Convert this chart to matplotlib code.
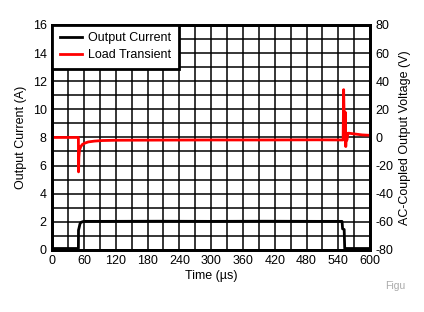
import matplotlib
matplotlib.use("Agg")
import matplotlib.pyplot as plt
from matplotlib.ticker import MultipleLocator

plt.rcParams['font.family'] = ['Liberation Sans', 'DejaVu Sans']
plt.rcParams['axes.unicode_minus'] = False

# output current trace (us, A)
t_cur = [0, 20, 49.5, 49.7, 51, 52.5, 54, 57, 60, 100, 200, 300, 400, 500, 547, 548, 551, 552, 575, 600]
i_cur = [0.1, 0.1, 0.1, 1.4, 1.6, 1.85, 1.95, 2.0, 2.03, 2.03, 2.04, 2.03, 2.04, 2.03, 2.03, 1.5, 1.45, 0.1, 0.1, 0.1]

# ac-coupled output voltage trace (us, V)
t_v = [0, 20, 49.5, 49.8, 50.4, 51.6, 54, 57, 62, 68, 80, 95, 120, 200, 300, 400, 500, 549,
       550, 551, 552, 553, 554, 555, 556, 558, 560, 570, 585, 600]
v_out = [0, 0, 0, -24.5, -14, -9, -6.5, -5, -4, -3.2, -2.6, -2.2, -2.0, -1.9, -1.8, -1.8, -1.7, -1.8,
         34, 12, 4, 18, -6.5, 3, -2, 3, 3, 2.5, 1.8, 1.5]

fig = plt.figure(figsize=(4.24, 3.12), dpi=100)
ax = fig.add_axes([0.123, 0.199, 0.750, 0.721])
ax2 = ax.twinx()

ax.plot(t_cur, i_cur, color='black', lw=2, label='Output Current')
ax2.plot(t_v, v_out, color='red', lw=2, label='Load Transient')

ax.set_xlim(0, 600)
ax.set_ylim(0, 16)
ax2.set_ylim(-80, 80)
ax.xaxis.set_major_locator(MultipleLocator(60))
ax.xaxis.set_minor_locator(MultipleLocator(30))
ax.yaxis.set_major_locator(MultipleLocator(2))
ax.yaxis.set_minor_locator(MultipleLocator(1))
ax2.yaxis.set_major_locator(MultipleLocator(20))
ax.grid(True, which='both', color='black', lw=1.1)
ax.set_axisbelow(True)

for a in (ax, ax2):
    a.tick_params(which='both', length=0, labelsize=9, pad=4)
    for s in a.spines.values():
        s.set_linewidth(2)

ax.set_xlabel('Time (\u00b5s)', fontsize=9, labelpad=2)
ax.set_ylabel('Output Current (A)', fontsize=9)
ax2.set_ylabel('AC-Coupled Output Voltage (V)', fontsize=9)

h1, l1 = ax.get_legend_handles_labels()
h2, l2 = ax2.get_legend_handles_labels()
leg = ax2.legend(h1 + h2, l1 + l2, loc='upper left', fontsize=9, fancybox=False,
                 framealpha=1, edgecolor='black', borderaxespad=0, handlelength=1.8,
                 handletextpad=0.5, borderpad=0.6, labelspacing=0.4)
leg.get_frame().set_linewidth(2)

fig.text(0.908, 0.075, 'Figu', fontsize=7.5, color='#aaaaaa')

fig.savefig('out.png', dpi=100)
